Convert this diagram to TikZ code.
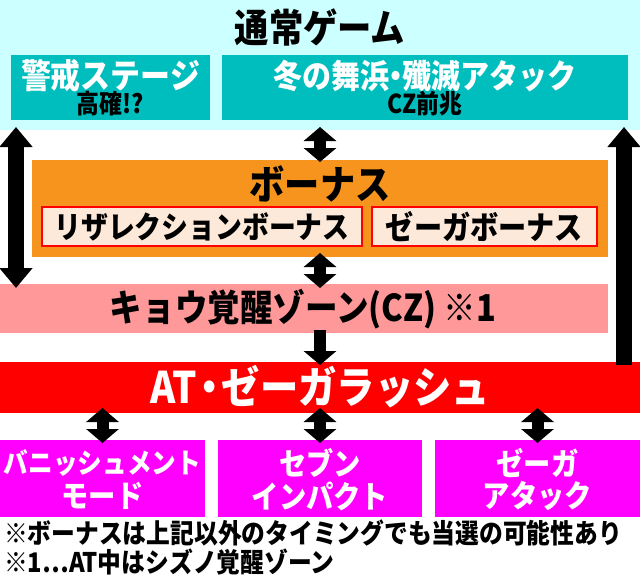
\documentclass[tikz,border=0pt]{standalone}
\usepackage{fontspec}
\setmainfont{Noto Sans CJK JP}[FakeStretch=0.88]
\usetikzlibrary{arrows.meta,calc}
\definecolor{cyanbg}{RGB}{204,255,255}
\definecolor{teal2}{RGB}{0,190,190}
\definecolor{orange2}{RGB}{247,148,30}
\definecolor{peach}{RGB}{253,233,217}
\definecolor{pinkband}{RGB}{255,153,153}
\definecolor{redbar}{RGB}{255,0,0}
\definecolor{magenta2}{RGB}{255,0,255}
\newcommand{\narrowdot}[1]{\kern-#1em・\kern-#1em}
\tikzset{
  box/.style={inner sep=0pt, outer sep=0pt, anchor=north west, draw=none},
  sub/.style={inner sep=0pt, outer sep=0pt, anchor=north west, fill=peach, draw=redbar, line width=1.5pt},
  txt/.style={inner sep=0pt, font=\bfseries\fontsize{#1}{#1}\selectfont},
  txt/.default=28,
  notetxt/.style={txt=#1, anchor=west, text height=0.78em, text depth=0.06em},
  smallarr/.style={line width=12pt, draw=black},
  bigarr/.style={line width=16pt, draw=black},
  stip/.tip={Triangle[width=32pt,length=14pt]},
  btip/.tip={Triangle[width=32pt,length=20pt]},
}
\begin{document}
\begin{tikzpicture}[x=1pt,y=-1pt]
\useasboundingbox (0,0) rectangle (640,586);
% top band
\node[box, fill=cyanbg, minimum width=640pt, minimum height=130pt] (normal) at (0,0) {};
\node[txt=39] (normaltitle) at (320,27) {通常ゲーム};
\node[box, fill=teal2, minimum width=199pt, minimum height=65pt] (keikai) at (11,55) {};
\node[txt=34, text=white] (keikaiT) at (keikai.center |- 0,76) {警戒ステージ};
\node[txt=26] (keikaiS) at (keikai.center |- 0,104) {高確!?};
\node[box, fill=teal2, minimum width=406pt, minimum height=65pt] (fuyu) at (222,55) {};
\node[txt=33, text=white] (fuyuT) at (fuyu.center |- 0,76) {冬の舞浜\narrowdot{0.25}殲滅アタック};
\node[txt=26] (fuyuS) at (fuyu.center |- 0,104) {CZ前兆};
% bonus
\node[box, fill=orange2, minimum width=576pt, minimum height=97pt] (bonus) at (32,160) {};
\node[txt=40] (bonusT) at (320,184) {ボーナス};
\node[sub, minimum width=320pt, minimum height=39pt] (res) at (42,207) {};
\node[txt=30.5] at (res.center) {リザレクションボーナス};
\node[sub, minimum width=225pt, minimum height=39pt] (zega) at (372,207) {};
\node[txt=32] at (zega.center) {ゼーガボーナス};
% cz
\node[box, fill=pinkband, minimum width=608pt, minimum height=49pt] (cz) at (0,284) {};
\node[txt=37] (czT) at (303,309) {キョウ覚醒ゾーン(CZ)\hspace{0.2em}※1};
% at
\node[box, fill=redbar, minimum width=640pt, minimum height=51pt] (at) at (0,362) {};
\node[txt=43.5, text=white] (atT) at (320,387) {AT\narrowdot{0.15}ゼーガラッシュ};
% magenta boxes
\node[box, fill=magenta2, minimum width=205pt, minimum height=77pt] (m1) at (0,440) {};
\node[box, fill=magenta2, minimum width=204pt, minimum height=77pt] (m2) at (218,440) {};
\node[box, fill=magenta2, minimum width=205pt, minimum height=77pt] (m3) at (435,440) {};
\node[txt=28, text=white] at (m1.center |- 0,463) {バニッシュメント};
\node[txt=31, text=white] at (m1.center |- 0,496) {モード};
\node[txt=31, text=white] at (m2.center |- 0,463) {セブン};
\node[txt=31, text=white] at (m2.center |- 0,496) {インパクト};
\node[txt=31, text=white] at (m3.center |- 0,463) {ゼーガ};
\node[txt=31, text=white] at (m3.center |- 0,496) {アタック};
% notes
\node[notetxt=27] (note1) at (4,540) {※ボーナスは上記以外のタイミングでも当選の可能性あり};
\node[notetxt=27] (note2) at (4,569) {※1…AT中はシズノ覚醒ゾーン};
% arrows
\draw[bigarr, btip-btip] ($(keikai.south west)+(5,7)$) -- ($(cz.north west)+(16,4)$);
\draw[bigarr, btip-] ($(fuyu.south east)+(-4,7)$) -- ($(at.north east)+(-16,3)$);
\draw[smallarr, stip-stip] ($(bonus.north |- fuyu.south)+(0,7)$) -- ($(bonus.north)+(0,2)$);
\draw[smallarr, stip-stip] ($(bonus.south)+(0,-4)$) -- ($(bonus.south |- cz.north)+(0,4)$);
\draw[smallarr, -stip] ($(bonus.south |- cz.south)+(0,-3)$) -- ($(bonus.south |- at.north)+(0,3)$);
\draw[smallarr, stip-stip] ($(m1.north |- at.south)+(0,-5)$) -- ($(m1.north)+(0,3)$);
\draw[smallarr, stip-stip] ($(m2.north |- at.south)+(0,-5)$) -- ($(m2.north)+(0,3)$);
\draw[smallarr, stip-stip] ($(m3.north |- at.south)+(0,-5)$) -- ($(m3.north)+(0,3)$);
\end{tikzpicture}
\end{document}
